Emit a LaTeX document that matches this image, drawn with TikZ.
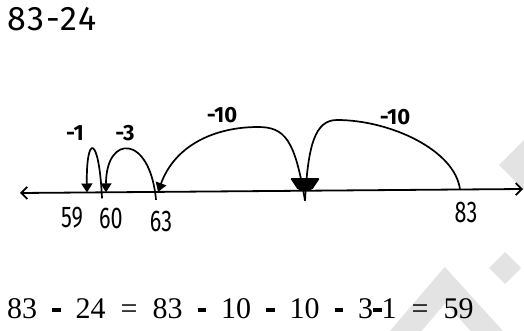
\documentclass[tikz,border=0pt]{standalone}
\usepackage{fontspec}
\setmainfont{Liberation Serif}
\newfontfamily\handfont{Fira Sans}[LetterSpace=6]
\newfontfamily\handnum{Fira Sans}
\usetikzlibrary{arrows.meta}
\newcommand\eqhy{\rule[6.5pt]{8.5pt}{3.6pt}}
\tikzset{
  hop/.style={line width=1.7pt, -{Triangle[width=11pt,length=9pt]}},
  hopplain/.style={line width=1.7pt},
  hand/.style={font=\handnum\fontsize{30}{32}\selectfont, xscale=0.72, inner sep=0pt},
  jump/.style={font=\handnum\bfseries\fontsize{22}{24}\selectfont, inner sep=0pt},
  wm/.style={gray!22, line width=24pt},
}
\begin{document}
\begin{tikzpicture}[x=1pt,y=-1pt]
\useasboundingbox (0,0) rectangle (524,331);
% watermark fragments
\draw[wm] (398,340) -- (445,285) -- (495,340);
\fill[gray!22] (505,252) -- (521,268) -- (505,284) -- (489,268) -- cycle;
\fill[gray!22] (524,140) -- (549,165) -- (524,190) -- (499,165) -- cycle;
% title
\node[font=\handfont\fontsize{34}{36}\selectfont, inner sep=0pt, anchor=west] (title) at (7,19) {83-24};
% number line
\coordinate (L) at (20,193);
\coordinate (R) at (523,189);
\draw[line width=1.8pt, {Straight Barb[length=6pt,width=12pt,line width=1.8pt]}-{Straight Barb[length=6pt,width=12pt,line width=1.8pt]}] (L) -- (R);
\coordinate (p59) at (87,192.5);
\coordinate (p60) at (106,192.3);
\coordinate (p63) at (158,191.9);
\coordinate (p73) at (305,190.7);
\coordinate (p83) at (460,189.5);
% blob at 73
\fill[rounded corners=1.5pt] (290,178) -- (320,178) -- (316,184) -- (312,190) -- (298,190) -- (294,184) -- cycle;
% jumps
\draw[hopplain] (p83) .. controls (455,150) and (390,120) .. (337,120) .. controls (315,120) and (308,145) .. ([yshift=-10pt]p73);
\draw[hop] ([yshift=-10pt]p73) .. controls (295,140) and (285,127) .. (258,127) .. controls (215,127) and (175,145) .. (p63);
\draw[hop] ([shift={(-2pt,-8pt)}]p63) .. controls (150,134) and (106,134) .. (p60);
\draw[hop] ([shift={(-4pt,-6pt)}]p60) .. controls (99,134) and (86,134) .. (p59);
% jump labels
\node[jump] (j1) at (75,133) {-1};
\node[jump] (j3) at (125,133) {-3};
\node[jump] (j10a) at (222,115) {-10};
\node[jump] (j10b) at (395,117) {-10};
% number labels
\node[hand] (l59) at (72,218) {59};
\node[hand] (l60) at (111,218) {60};
\node[hand] (l63) at (161,221) {63};
\node[hand] (l83) at (466,212) {83};
% equation
\node[anchor=base west, inner sep=0pt, font=\fontsize{30}{34}\selectfont] (eq) at (7,318)
  {\spaceskip=15pt 83 \eqhy{} 24 = 83 \eqhy{} 10 \eqhy{} 10 \eqhy{} 3\eqhy{}1 = 59};
\end{tikzpicture}
\end{document}
